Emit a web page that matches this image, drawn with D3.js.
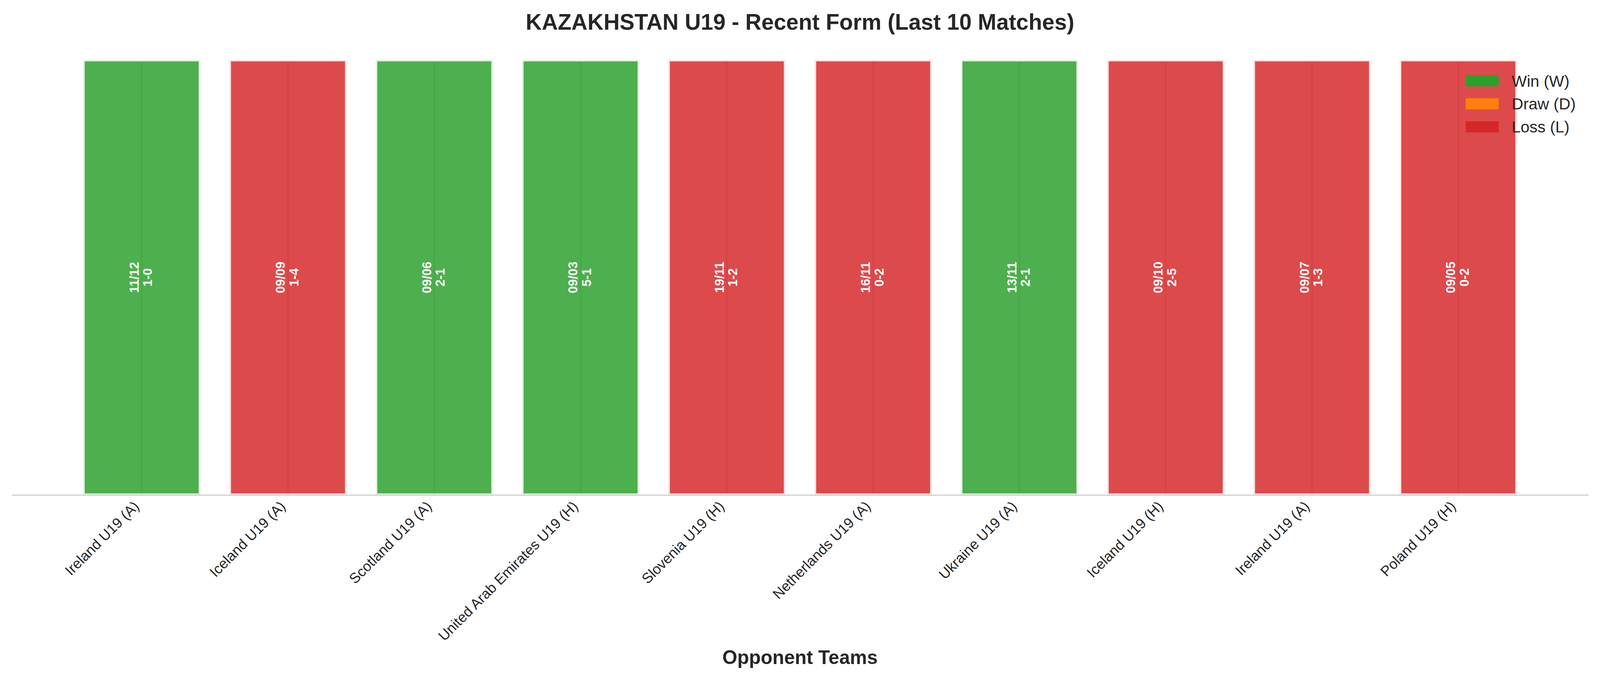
<!DOCTYPE html>
<html>
<head>
<meta charset="utf-8">
<script src="https://cdn.jsdelivr.net/npm/d3@7/dist/d3.min.js"></script>
<style>
  html, body { margin: 0; padding: 0; background: #ffffff; overflow: hidden; }
  svg { display: block; width: 100vw; height: 100vh; }
  text { font-family: "Liberation Sans", Arial, Helvetica, sans-serif; }
</style>
</head>
<body>
<svg id="chart" viewBox="0 0 4170 1769" preserveAspectRatio="xMinYMin meet"></svg>
<script>
// ---- data ----
const titleText = "KAZAKHSTAN U19 - Recent Form (Last 10 Matches)";
const xAxisLabel = "Opponent Teams";
const opponents = [
  "Ireland U19 (A)", "Iceland U19 (A)", "Scotland U19 (A)", "United Arab Emirates U19 (H)",
  "Slovenia U19 (H)", "Netherlands U19 (A)", "Ukraine U19 (A)", "Iceland U19 (H)",
  "Ireland U19 (A)", "Poland U19 (H)"
];
const results = ["W", "L", "W", "W", "L", "L", "W", "L", "L", "L"];
const matchDates = ["11/12", "09/09", "09/06", "09/03", "19/11", "16/11", "13/11", "09/10", "09/07", "09/05"];
const scores = ["1-0", "1-4", "2-1", "5-1", "1-2", "0-2", "2-1", "2-5", "1-3", "0-2"];
const barHeights = [1, 1, 1, 1, 1, 1, 1, 1, 1, 1];
const legendKeys = ["W", "D", "L"];
const legendLabels = ["Win (W)", "Draw (D)", "Loss (L)"];
const resultColors = { W: "#2ca02c", D: "#ff7f0e", L: "#d62728" };

// ---- layout ----
const svg = d3.select("#chart");
const textColor = "#262626";
const n = opponents.length;
const barWidth = 0.8;
const xPad = 0.05 * (n - 1 + barWidth);
const x = d3.scaleLinear()
  .domain([-barWidth / 2 - xPad, n - 1 + barWidth / 2 + xPad])
  .range([30, 4140]);
const y = d3.scaleLinear().domain([0, 1]).range([1290, 156]);
const idx = d3.range(n);

// grid lines (vertical at tick positions)
svg.append("g").selectAll("line").data(idx).join("line")
  .attr("x1", i => x(i)).attr("x2", i => x(i))
  .attr("y1", y(0)).attr("y2", y(1))
  .attr("stroke", "#cccccc").attr("stroke-width", 3.3);

// bars
svg.append("g").selectAll("rect").data(idx).join("rect")
  .attr("x", i => x(i - barWidth / 2))
  .attr("width", x(barWidth) - x(0))
  .attr("y", i => y(barHeights[i]))
  .attr("height", i => y(0) - y(barHeights[i]))
  .attr("fill", i => resultColors[results[i]])
  .attr("fill-opacity", 0.84)
  .attr("stroke", "#ffffff")
  .attr("stroke-opacity", 0.84)
  .attr("stroke-width", 8);

// bar labels (date + score), rotated
const lab = svg.append("g").selectAll("g").data(idx).join("g")
  .attr("transform", i => `translate(${x(i)},${y(barHeights[i] / 2)}) rotate(-90)`);
lab.append("text")
  .attr("x", 0).attr("y", -8)
  .attr("text-anchor", "middle")
  .attr("font-size", 33).attr("font-weight", "bold").attr("fill", "#ffffff")
  .text(i => matchDates[i]);
lab.append("text")
  .attr("x", 0).attr("y", 27)
  .attr("text-anchor", "middle")
  .attr("font-size", 33).attr("font-weight", "bold").attr("fill", "#ffffff")
  .text(i => scores[i]);

// x axis
const xAxis = d3.axisBottom(x)
  .tickValues(idx)
  .tickSize(0)
  .tickPadding(0)
  .tickFormat(i => opponents[i]);
const gx = svg.append("g").attr("transform", `translate(0,${y(0)})`).call(xAxis);
gx.select(".domain").attr("stroke", "#cccccc").attr("stroke-width", 3);
gx.selectAll(".tick text")
  .attr("font-family", "Liberation Sans, Arial, sans-serif")
  .attr("font-size", 37.5)
  .attr("fill", textColor)
  .attr("text-anchor", "end")
  .attr("dy", null)
  .attr("y", null)
  .attr("transform", "translate(-5,32) rotate(-45)");

// title
svg.append("text")
  .attr("x", 2085).attr("y", 77)
  .attr("text-anchor", "middle")
  .attr("font-size", 58).attr("font-weight", "bold").attr("fill", textColor)
  .text(titleText);

// x axis label
svg.append("text")
  .attr("x", (x.range()[0] + x.range()[1]) / 2).attr("y", 1731)
  .attr("text-anchor", "middle")
  .attr("font-size", 50).attr("font-weight", "bold").attr("fill", textColor)
  .text(xAxisLabel);

// legend
const lg = svg.append("g").selectAll("g").data(legendKeys).join("g")
  .attr("transform", (k, j) => `translate(3820,${196 + j * 60})`);
lg.append("rect")
  .attr("width", 86).attr("height", 29)
  .attr("fill", k => resultColors[k]);
lg.append("text")
  .attr("x", 120).attr("y", 29.5)
  .attr("font-size", 41.7).attr("fill", textColor)
  .text((k, j) => legendLabels[j]);
</script>
</body>
</html>
